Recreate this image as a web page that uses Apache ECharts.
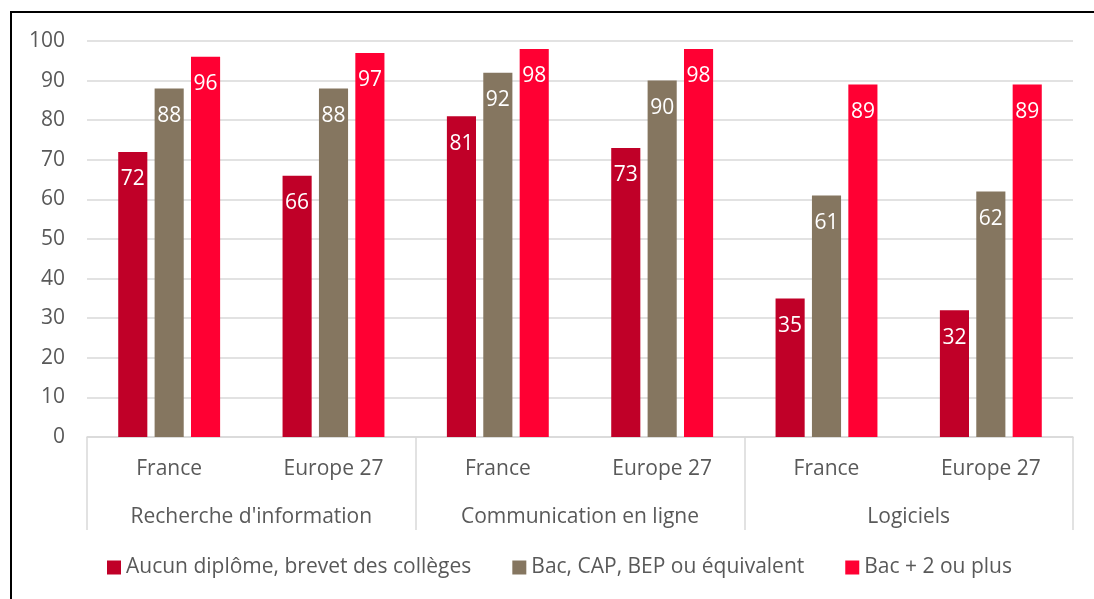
<!DOCTYPE html>
<html>
<head>
<meta charset="utf-8">
<script src="https://cdn.jsdelivr.net/npm/echarts@6/dist/echarts.min.js"></script>
<style>
  html, body { margin: 0; padding: 0; background: #fff; }
  #chart { position: absolute; left: 0; top: 0; width: 1094px; height: 599px; }
  #frame { position: absolute; left: 10px; top: 11px; right: 0; bottom: 0;
           border-top: 2px solid #000; border-left: 2px solid #000; pointer-events: none; }
</style>
</head>
<body>
<div id="chart"></div>
<div id="frame"></div>
<script>
// Sub-categories (inner axis) and their groups (outer axis)
const zones = ['France', 'Europe 27', 'France', 'Europe 27', 'France', 'Europe 27'];
const groups = ["Recherche d'information", 'Communication en ligne', 'Logiciels'];

// Share of users by diploma level (%)
const seriesNames = ['Aucun diplôme, brevet des collèges', 'Bac, CAP, BEP ou équivalent', 'Bac + 2 ou plus'];
const aucunDiplome = [72, 66, 81, 73, 35, 32];
const bacCapBep = [88, 88, 92, 90, 61, 62];
const bacPlus2 = [96, 97, 98, 98, 89, 89];

const colors = ['#C00028', '#857660', '#FF0033'];
const font = "'Open Sans', 'Liberation Sans', sans-serif";
const textColor = '#595959';
const gridColor = '#D9D9D9';
const fs = 21;

const values = [aucunDiplome, bacCapBep, bacPlus2];

const chart = echarts.init(document.getElementById('chart'));
chart.setOption({
  animation: false,
  color: colors,
  textStyle: { fontFamily: font },
  grid: { left: 87, right: 21, top: 41, bottom: 162 },
  legend: {
    left: 102, top: 552,
    icon: 'rect', itemWidth: 14, itemHeight: 14, itemGap: 41,
    textStyle: { fontFamily: font, fontSize: fs, color: textColor }
  },
  xAxis: [
    {
      type: 'category',
      data: zones,
      axisLine: { lineStyle: { color: gridColor, width: 1.5 } },
      axisTick: { show: false },
      axisLabel: { margin: 22, fontFamily: font, fontSize: fs, color: textColor, interval: 0 }
    },
    {
      type: 'category',
      data: groups,
      position: 'bottom',
      axisLine: { show: false },
      axisTick: { show: true, length: 93, interval: 0, lineStyle: { color: gridColor, width: 1.5 } },
      axisLabel: { margin: 70, fontFamily: font, fontSize: fs, color: textColor, interval: 0 }
    }
  ],
  yAxis: {
    type: 'value',
    min: 0, max: 100, interval: 10,
    axisLine: { show: false },
    axisTick: { show: false },
    splitLine: { lineStyle: { color: gridColor, width: 1.5 } },
    axisLabel: { margin: 22, fontFamily: font, fontSize: fs, color: textColor }
  },
  series: seriesNames.map((name, i) => ({
    name: name,
    type: 'bar',
    xAxisIndex: 0,
    data: values[i],
    barGap: '25%',
    barCategoryGap: '38%',
    label: {
      show: true,
      position: 'insideTop',
      distance: 17,
      color: '#fff',
      fontFamily: font,
      fontSize: fs
    }
  }))
});
</script>
</body>
</html>
